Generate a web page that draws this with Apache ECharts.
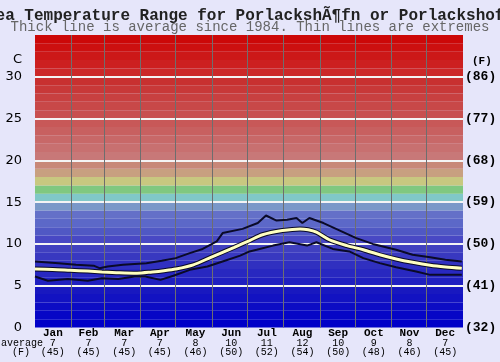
<!DOCTYPE html>
<html><head><meta charset="utf-8">
<script src="https://cdn.jsdelivr.net/npm/echarts@6/dist/echarts.min.js"></script>
<style>html,body{margin:0;padding:0;background:#E6E6FA;}#c{width:500px;height:362px;}</style>
</head><body><div id="c"></div>
<script>
// ---- data ----
const monthNames = ['Jan','Feb','Mar','Apr','May','Jun','Jul','Aug','Sep','Oct','Nov','Dec'];
const monthAvgC = [7,7,7,7,8,10,11,12,10,9,8,7];
const monthAvgF = [45,45,45,45,46,50,52,54,50,48,46,45];
const monthStartDays = [31,59,90,120,151,181,212,243,273,304,334];
const celsiusTicks = [0,5,10,15,20,25,30];
const fahrenheitTicks = ['(32)','(41)','(50)','(59)','(68)','(77)','(86)'];

const avgDays = [0,15,30,45,57,72,87,100,110,120,135,150,160,170,183,194,211,226,233,240,251,266,280,294,308,322,337,350,364];
const avgTemp = [7.0,6.95,6.85,6.75,6.65,6.55,6.5,6.65,6.8,7.0,7.5,8.4,9.0,9.6,10.4,11.1,11.6,11.8,11.7,11.4,10.5,9.8,9.3,8.7,8.2,7.8,7.45,7.25,7.1];

const maxDays = [0,20,35,50,55,62,75,95,108,120,132,143,155,160,177,190,197,206,215,223,228,234,246,260,274,288,308,322,337,350,364];
const maxTemp = [7.9,7.7,7.5,7.4,7.1,7.3,7.5,7.7,8.0,8.3,8.9,9.4,10.3,11.3,11.8,12.5,13.4,12.8,12.9,13.1,12.5,13.1,12.5,11.6,10.7,10.0,9.3,8.7,8.4,8.1,7.9];

const minDays = [0,11,28,45,57,71,85,94,107,118,132,147,160,175,183,189,203,217,232,240,254,268,280,294,308,325,337,364];
const minTemp = [6.1,5.6,5.8,5.6,5.9,5.8,6.1,6.1,5.7,6.2,6.9,7.3,7.9,8.6,9.1,9.3,9.8,10.2,9.8,10.2,9.4,9.1,8.3,7.7,7.2,6.7,6.3,6.3];

// ---- style constants ----
const bandPalette = ['#0000C8','#0606C6','#0C0CC4','#1212C2','#1818C0','#2020C0','#2828C0','#3030C0','#3838C0','#4040C0',
  '#4848C4','#5058C4','#5C68C8','#6470C8','#7A98C8','#80C8C8','#80C880','#C8C880','#C8A080','#C88878',
  '#C87878','#C87070','#C86868','#C86060','#C85858','#C85050','#C84848','#C84040','#C83838','#C83030',
  '#CC2828','#CC2020','#CC1818','#CC1010','#CC0808'];
const mono = 'Liberation Mono';

const zip = (xs, ys) => xs.map((x, i) => [x, ys[i]]);
const bands = bandPalette.map((c, i) => [{yAxis: i, itemStyle: {color: c}}, {yAxis: i + 1}]);

const chart = echarts.init(document.getElementById('c'), null, {renderer: 'canvas'});
chart.setOption({
  backgroundColor: '#E6E6FA',
  animation: false,
  title: {
    text: 'Sea Temperature Range for PorlackshÃ¶fn or Porlackshofn',
    subtext: 'Thick line is average since 1984. Thin lines are extremes',
    left: 'center', top: 3, itemGap: -4,
    textStyle: {fontFamily: mono, fontWeight: 'bold', fontSize: 16, color: '#222'},
    subtextStyle: {fontFamily: mono, fontSize: 14, color: '#666'}
  },
  grid: {left: 35, right: 37, top: 35, bottom: 34.5},
  xAxis: [
    {type: 'value', min: 0, max: 365, show: false},
    {type: 'category', data: monthNames, position: 'bottom', boundaryGap: true,
      axisLine: {show: false}, axisTick: {show: false}, splitLine: {show: false},
      axisLabel: {margin: 1, interval: 0,
        formatter: (v, i) => `{m|${v}}\n{c|${monthAvgC[i]}}\n{f|(${monthAvgF[i]})}`,
        rich: {
          m: {fontFamily: mono, fontWeight: 'bold', fontSize: 11, lineHeight: 10, color: '#000'},
          c: {fontFamily: mono, fontSize: 10, lineHeight: 9.5, color: '#000'},
          f: {fontFamily: mono, fontSize: 10, lineHeight: 9.5, color: '#000'}
        }}}
  ],
  yAxis: [
    {type: 'value', min: 0, max: 35, interval: 5, position: 'left', z: 3,
      axisLine: {show: false}, axisTick: {show: false},
      axisLabel: {margin: 13, fontFamily: 'DejaVu Sans', fontSize: 13, color: '#000',
        formatter: v => celsiusTicks.includes(v) ? String(v) : ''},
      splitLine: {show: true, showMinLine: false, showMaxLine: false, lineStyle: {color: '#F4F4F4', width: 2}}},
    {type: 'value', min: 0, max: 35, interval: 5, position: 'right', z: 3,
      axisLine: {show: false}, axisTick: {show: false}, splitLine: {show: false},
      axisLabel: {margin: 2, fontFamily: mono, fontWeight: 'bold', fontSize: 13, color: '#000',
        formatter: v => fahrenheitTicks[celsiusTicks.indexOf(v)] || ''}}
  ],
  graphic: [
    {type: 'text', left: 13, top: 53, style: {text: 'C', font: '13px "DejaVu Sans"', fill: '#000'}},
    {type: 'text', left: 472, top: 56, style: {text: '(F)', font: 'bold 11px "Liberation Mono"', fill: '#000'}},
    {type: 'text', left: 1, top: 338, style: {text: 'average', font: '10px "Liberation Mono"', fill: '#000'}},
    {type: 'text', left: 12, top: 347, style: {text: '(F)', font: '10px "Liberation Mono"', fill: '#000'}}
  ],
  series: [
    {type: 'line', xAxisIndex: 0, yAxisIndex: 0, data: [], z: 1, silent: true,
      markArea: {silent: true, z: 1, itemStyle: {borderWidth: 0}, data: bands},
      markLine: {silent: true, symbol: 'none', label: {show: false},
        lineStyle: {color: '#6E6E6E', width: 1, type: 'solid'},
        data: monthStartDays.map(d => ({xAxis: d}))}},
    {name: 'max', type: 'line', xAxisIndex: 0, yAxisIndex: 0, data: zip(maxDays, maxTemp), z: 10,
      showSymbol: false, lineStyle: {color: '#0A0A28', width: 2}},
    {name: 'min', type: 'line', xAxisIndex: 0, yAxisIndex: 0, data: zip(minDays, minTemp), z: 10,
      showSymbol: false, lineStyle: {color: '#0A0A28', width: 2}},
    {name: 'avgOutline', type: 'line', xAxisIndex: 0, yAxisIndex: 0, data: zip(avgDays, avgTemp), z: 11,
      smooth: 0.3, showSymbol: false, lineStyle: {color: '#0A0A28', width: 5}},
    {name: 'avg', type: 'line', xAxisIndex: 0, yAxisIndex: 0, data: zip(avgDays, avgTemp), z: 12,
      smooth: 0.3, showSymbol: false, lineStyle: {color: '#FFFFC0', width: 3}}
  ]
});
</script></body></html>
